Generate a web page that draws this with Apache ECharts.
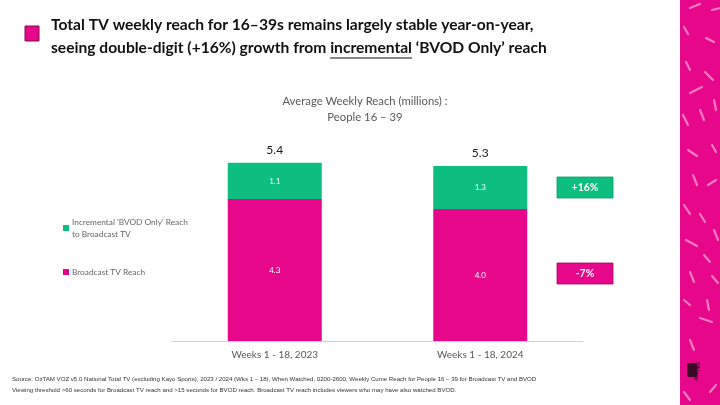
<!DOCTYPE html>
<html><head><meta charset="utf-8">
<script src="https://cdn.jsdelivr.net/npm/echarts@6/dist/echarts.min.js"></script>
<style>html,body{margin:0;padding:0;background:#fff}#c{width:720px;height:405px}</style>
</head><body><div id="c"></div>
<script>
const categories = ['Weeks 1 - 18, 2023', 'Weeks 1 - 18, 2024'];
const broadcastReach = [4.3, 4.0];
const bvodOnlyReach = [1.1, 1.3];
const totalReach = [5.4, 5.3];
const seriesNames = ["Broadcast TV Reach", "Incremental 'BVOD Only' Reach\nto Broadcast TV"];
const changeLabels = ['+16%', '-7%'];

const GREEN = '#0DBE80', PINK = '#E6078A';
const chart = echarts.init(document.getElementById('c'), null, {renderer: 'canvas'});

const TITLE_FONT = 'bold 15.6px Lato';
const line2pre = 'seeing double-digit (+16%) growth from ';
const underlined = 'incremental';
const mctx = document.createElement('canvas').getContext('2d');
mctx.font = TITLE_FONT;
const ulX1 = 51 + mctx.measureText(line2pre).width;
const ulX2 = ulX1 + mctx.measureText(underlined).width;

const dashes = [
 [690,8,700,4],[712,10,720,8],[684,27,688,34],[706,38,714,42],[686,62,690,70],[705,72,713,80],
 [690,93,702,87],[714,100,716,110],[683,115,688,125],[700,110,704,120],[688,150,697,156],[712,145,716,152],
 [693,175,697,185],[708,185,716,180],[684,205,690,214],[700,214,705,222],[714,230,718,240],[686,240,697,246],
 [704,255,710,262],[690,272,694,282],[712,276,718,283],[684,300,690,305],[700,318,712,322],[690,340,694,350],
 [684,392,690,400],[710,392,716,385],[707,300,709,310]
];
const dashEls = dashes.map(d => ({type:'line', shape:{x1:d[0],y1:d[1],x2:d[2],y2:d[3]}, style:{stroke:'#F57BC0', lineWidth:2.2, lineCap:'round'}}));

chart.setOption({
  animation: false,
  textStyle: {fontFamily: 'Lato, "Open Sans", sans-serif'},
  title: {
    text: 'Average Weekly Reach (millions) :\nPeople 16 – 39',
    left: 360, top: 89,
    textAlign: 'center',
    textStyle: {fontSize: 11.3, fontWeight: 'normal', color: '#595959', lineHeight: 15.5, fontFamily: 'Lato, sans-serif'}
  },
  legend: {
    orient: 'vertical', left: 58, top: 211, itemGap: 26,
    itemWidth: 6, itemHeight: 6, icon: 'rect',
    data: [seriesNames[1], seriesNames[0]],
    textStyle: {fontSize: 8.3, color: '#666', lineHeight: 12, padding:[0,0,0,-2]}
  },
  grid: {left: 172, width: 411, top: 143, height: 198},
  xAxis: {
    type: 'category', data: categories,
    axisLine: {lineStyle: {color: '#d0d0d0'}},
    axisTick: {show: false},
    axisLabel: {fontSize: 10, color: '#595959', margin: 9}
  },
  yAxis: {type: 'value', min: 0, max: 6, show: false, splitLine: {show: false}},
  series: [
    {name: seriesNames[0], type: 'bar', stack: 'a', data: broadcastReach, barWidth: 94,
     itemStyle: {color: PINK},
     label: {show: true, position: 'inside', color: '#fff', fontSize: 8, formatter: p => p.value.toFixed(1)}},
    {name: seriesNames[1], type: 'bar', stack: 'a', data: bvodOnlyReach, barWidth: 94,
     itemStyle: {color: GREEN},
     label: {show: true, position: 'inside', color: '#fff', fontSize: 8, formatter: p => p.value.toFixed(1)}},
    {name: 'total', type: 'bar', stack: 'a', data: totalReach.map(() => 0), barWidth: 94,
     itemStyle: {color: 'transparent'}, silent: true,
     label: {show: true, position: 'top', distance: 7, color: '#1a1a1a', fontSize: 12,
             formatter: p => totalReach[p.dataIndex].toFixed(1)}}
  ],
  graphic: [
    {type:'rect', shape:{x:680,y:0,width:40,height:405}, style:{fill:PINK}},
    ...dashEls,
    {type:'rect', shape:{x:687,y:363,width:10,height:14, r:2}, style:{fill:'#3a0a25'}},
    {type:'text', x:700, y:362, rotation:-Math.PI/2, style:{text:'9Now', fill:'#3a0a25', font:'bold 7px Lato'}},
    {type:'rect', shape:{x:25,y:26,width:14,height:15}, style:{fill:PINK, stroke:'#7a1048', lineWidth:1}},
    {type:'text', x:51, y:17, style:{text:'Total TV weekly reach for 16–39s remains largely stable year-on-year,', fill:'#111', font:TITLE_FONT}},
    {type:'text', x:51, y:40, style:{text:line2pre + underlined + ' ‘BVOD Only’ reach', fill:'#111', font:TITLE_FONT}},
    {type:'line', shape:{x1:ulX1,y1:58,x2:ulX2,y2:58}, style:{stroke:'#111', lineWidth:1.2}},
    {type:'rect', shape:{x:557,y:177,width:56,height:21}, style:{fill:GREEN, stroke:'#0a9a66', lineWidth:0.8}},
    {type:'text', x:585, y:187.5, style:{text:changeLabels[0], fill:'#fff', font:'bold 10.5px Lato', align:'center', verticalAlign:'middle'}},
    {type:'rect', shape:{x:557,y:263,width:56,height:21}, style:{fill:PINK, stroke:'#a00560', lineWidth:0.8}},
    {type:'text', x:585, y:273.5, style:{text:changeLabels[1], fill:'#fff', font:'bold 10.5px Lato', align:'center', verticalAlign:'middle'}},
    {type:'text', x:12, y:376, style:{text:'Source: OzTAM VOZ v5.0 National Total TV (excluding Kayo Sports), 2023 / 2024 (Wks 1 – 18), When Watched, 0200-2600, Weekly Cume Reach for People 16 – 39 for Broadcast TV and BVOD', fill:'#333', font:'6.1px "Liberation Sans Narrow", "Liberation Sans", sans-serif'}},
    {type:'text', x:12, y:387, style:{text:'Viewing threshold >60 seconds for Broadcast TV reach and >15 seconds for BVOD reach. Broadcast TV reach includes viewers who may have also watched BVOD.', fill:'#333', font:'6.1px "Liberation Sans Narrow", "Liberation Sans", sans-serif'}}
  ]
});
</script></body></html>
